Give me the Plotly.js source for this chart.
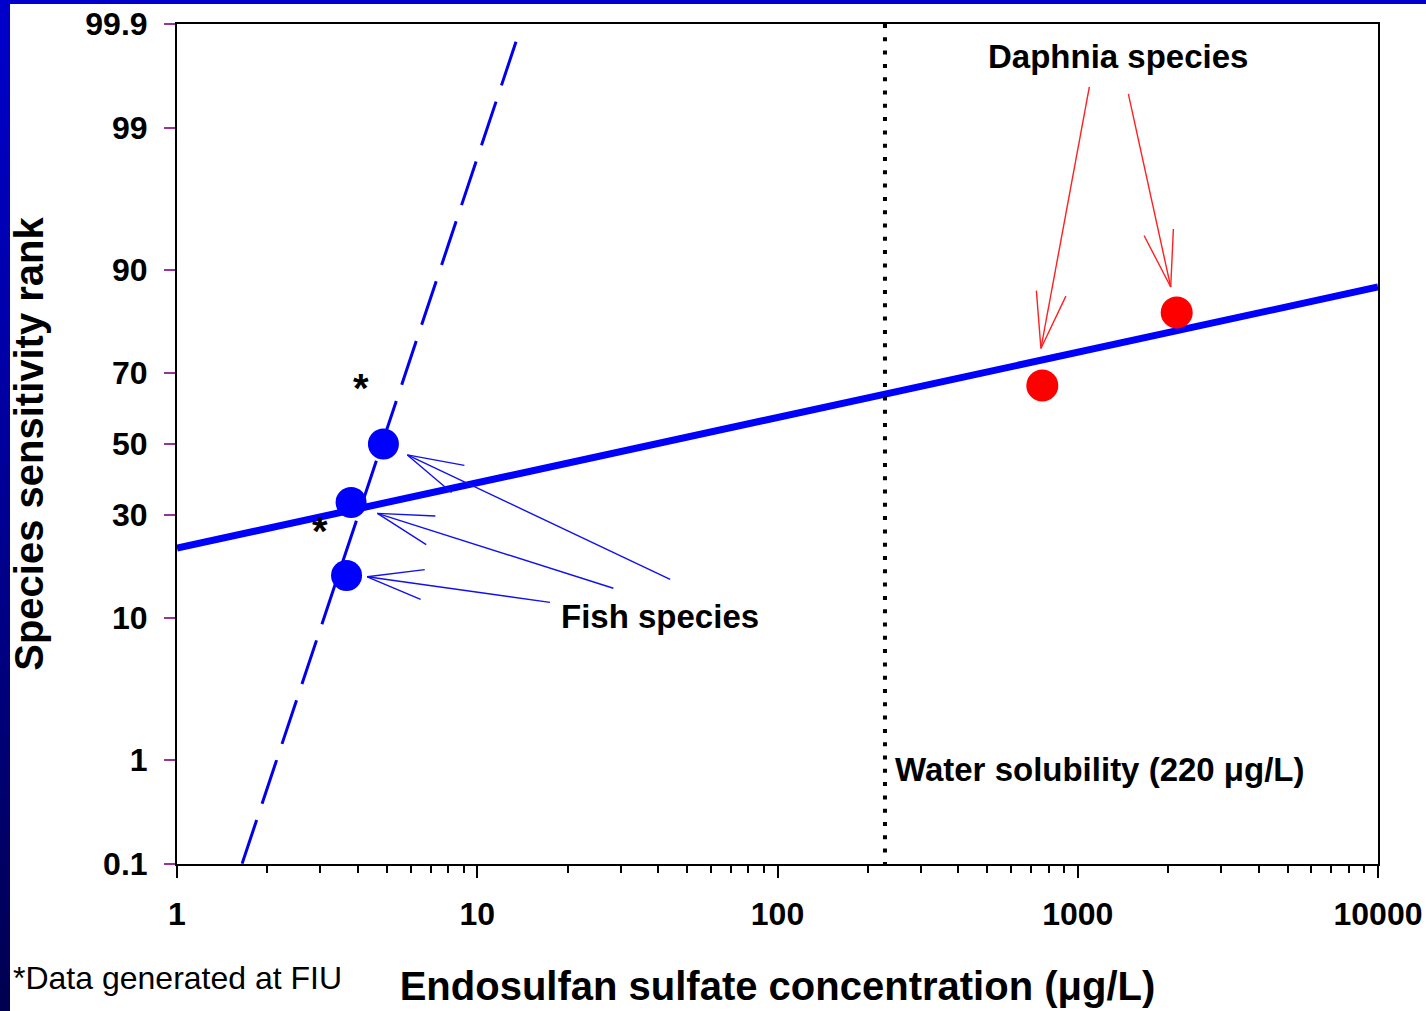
<!DOCTYPE html>
<html>
<head>
<meta charset="utf-8">
<script src="https://cdn.plot.ly/plotly-3.0.1.min.js"></script>
<style>
html,body{margin:0;padding:0;background:#fff;}
#wrap{position:relative;width:1426px;height:1011px;overflow:hidden;}
#chart{position:absolute;left:0;top:0;width:1426px;height:1011px;}
#leftbar{position:absolute;left:0;top:0;width:10px;height:1011px;background:linear-gradient(to bottom,#0000CC 0%,#0000A8 35%,#00007A 70%,#000050 100%);z-index:5;}
#topbar{position:absolute;left:0;top:0;width:1426px;height:4px;background:#0000CC;z-index:5;}
</style>
</head>
<body>
<div id="wrap"><div id="chart"></div><div id="leftbar"></div><div id="topbar"></div></div>
<script>
// ---------------- data ----------------
const fishConc = [3.67, 3.80, 4.87];          // µg/L
const fishRank = [16.67, 33.33, 50.0];         // %
const daphniaConc = [762, 2136];
const daphniaRank = [66.67, 83.33];

const fitConc = [1, 10000];                    // regression line, all species
const fitRank = [22.2, 87.6];
const fishFitConc = [13.46, 1.646];            // dashed regression line, fish
const fishFitRank = [99.846, 0.1];

const solubilityConc = 228;                    // vertical dotted line
const rankMin = 0.1, rankMax = 99.9;

const xTickVals = [1, 10, 100, 1000, 10000];
const xTickText = ['1', '10', '100', '1000', '10000'];
const yTickVals = [0.1, 1, 10, 30, 50, 70, 90, 99, 99.9];
const yTickText = ['0.1', '1', '10', '30', '50', '70', '90', '99', '99.9'];

// arrows (tail -> head)
const redTailConc = [1093, 1474];
const redTailRank = [99.57, 99.50];
const redHeadConc = [754, 2040];
const redHeadRank = [75.9, 87.6];
const blueTailConc = [43.9, 28.4, 17.47];
const blueTailRank = [15.97, 14.42, 12.2];
const blueHeadConc = [5.85, 4.65, 4.30];
const blueHeadRank = [46.8, 30.5, 16.43];

// text labels
const labelText = ['Daphnia species', 'Fish species', 'Water solubility (220 μg/L)'];
const labelConc = [1362, 40.6, 242.5];
const labelRank = [99.78, 10.28, 0.839];
const labelAnchor = ['center', 'center', 'left'];
const starConc = [4.10, 2.995];
const starRank = [68.6, 28.5];

// ---------------- helpers ----------------
function probit(p){
  const a=[-3.969683028665376e+01,2.209460984245205e+02,-2.759285104469687e+02,1.383577518672690e+02,-3.066479806614716e+01,2.506628277459239e+00];
  const b=[-5.447609879822406e+01,1.615858368580409e+02,-1.556989798598866e+02,6.680131188771972e+01,-1.328068155288572e+01];
  const c=[-7.784894002430293e-03,-3.223964580411365e-01,-2.400758277161838e+00,-2.549732539343734e+00,4.374664141464968e+00,2.938163982698783e+00];
  const d=[7.784695709041462e-03,3.224671290700398e-01,2.445134137142996e+00,3.754408661907416e+00];
  const plow=0.02425, phigh=1-plow; let q,r;
  if(p<plow){q=Math.sqrt(-2*Math.log(p));return (((((c[0]*q+c[1])*q+c[2])*q+c[3])*q+c[4])*q+c[5])/((((d[0]*q+d[1])*q+d[2])*q+d[3])*q+1);}
  if(p<=phigh){q=p-0.5;r=q*q;return (((((a[0]*r+a[1])*r+a[2])*r+a[3])*r+a[4])*r+a[5])*q/(((((b[0]*r+b[1])*r+b[2])*r+b[3])*r+b[4])*r+1);}
  q=Math.sqrt(-2*Math.log(1-p));return -(((((c[0]*q+c[1])*q+c[2])*q+c[3])*q+c[4])*q+c[5])/((((d[0]*q+d[1])*q+d[2])*q+d[3])*q+1);
}
const Z = pct => probit(pct/100);
const zMin = Z(rankMin), zMax = Z(rankMax);

const W = 1426, H = 1011, ML = 177, MR = 48, MT = 24, MB = 147;
const KX = (W-ML-MR)/4;                 // px per decade
const KZ = (H-MT-MB)/(zMax-zMin);        // px per probit unit
const BARB = 58, ANG = 15*Math.PI/180;

function arrows(tc, tr, hc, hr){
  const xs=[], ys=[];
  for(let i=0;i<tc.length;i++){
    const u0=Math.log10(tc[i])*KX, v0=Z(tr[i])*KZ, u1=Math.log10(hc[i])*KX, v1=Z(hr[i])*KZ;
    let du=u0-u1, dv=v0-v1; const L=Math.hypot(du,dv); du/=L; dv/=L;
    const barb = s => { const c=Math.cos(s*ANG), sn=Math.sin(s*ANG);
      return [u1+BARB*(du*c-dv*sn), v1+BARB*(du*sn+dv*c)]; };
    const b1=barb(1), b2=barb(-1);
    xs.push(tc[i], hc[i], null, Math.pow(10,b1[0]/KX), hc[i], Math.pow(10,b2[0]/KX), null);
    ys.push(Z(tr[i]), Z(hr[i]), null, b1[1]/KZ, Z(hr[i]), b2[1]/KZ, null);
  }
  return {x:xs, y:ys};
}

const FONT = 'Arial, "Liberation Sans", sans-serif';
const redA = arrows(redTailConc, redTailRank, redHeadConc, redHeadRank);
const blueA = arrows(blueTailConc, blueTailRank, blueHeadConc, blueHeadRank);

const traces = [
  {x:fitConc, y:fitRank.map(Z), mode:'lines', line:{color:'#0000FF', width:7}, hoverinfo:'skip'},
  {x:fishFitConc, y:fishFitRank.map(Z), mode:'lines', line:{color:'#0000EE', width:3, dash:'46px,17.1px'}, hoverinfo:'skip'},
  {x:[solubilityConc, solubilityConc], y:[zMax, zMin], mode:'lines', line:{color:'#000', width:4, dash:'4px,9.3px'}, hoverinfo:'skip'},
  {x:redA.x, y:redA.y, mode:'lines', line:{color:'#FF2020', width:1.4}, hoverinfo:'skip'},
  {x:blueA.x, y:blueA.y, mode:'lines', line:{color:'#1010F0', width:1.4}, hoverinfo:'skip'},
  {x:fishConc, y:fishRank.map(Z), mode:'markers', marker:{color:'#0000FF', size:31, line:{width:0}}},
  {x:daphniaConc, y:daphniaRank.map(Z), mode:'markers', marker:{color:'#FF0000', size:32, line:{width:0}}}
];

const minorVals = [];
for(let d=1; d<10000; d*=10) for(let k=2;k<=9;k++) minorVals.push(k*d);

const annotations = [];
for(let i=0;i<labelText.length;i++){
  annotations.push({x:Math.log10(labelConc[i]), y:Z(labelRank[i]), xref:'x', yref:'y', text:labelText[i],
    showarrow:false, xanchor:labelAnchor[i], yanchor:'middle',
    font:{family:FONT, size:33, weight:'bold', color:'#000'}});
}
for(let i=0;i<starConc.length;i++){
  annotations.push({x:Math.log10(starConc[i]), y:Z(starRank[i]), xref:'x', yref:'y', text:'*',
    showarrow:false, xanchor:'center', yanchor:'middle', yshift:-10,
    font:{family:FONT, size:40, weight:'bold', color:'#000'}});
}
annotations.push({x:(14-ML)/(W-ML-MR), y:(H-MB-978)/(H-MT-MB), xref:'paper', yref:'paper', text:'*Data generated at FIU',
  showarrow:false, xanchor:'left', yanchor:'middle', xshift:-3, font:{family:FONT, size:32, color:'#000'}});

const layout = {
  width:W, height:H,
  margin:{l:ML, r:MR, t:MT, b:MB, pad:0},
  paper_bgcolor:'#fff', plot_bgcolor:'#fff',
  showlegend:false,
  font:{family:FONT, color:'#000'},
  xaxis:{type:'log', range:[0,4], tickmode:'array', tickvals:xTickVals, ticktext:xTickText,
    ticks:'outside', ticklen:12, tickwidth:2, tickcolor:'#000',
    minor:{tickmode:'array', tickvals:minorVals, ticks:'outside', ticklen:7, tickwidth:2, tickcolor:'#000', showgrid:false},
    showline:true, linecolor:'#000', linewidth:2, mirror:true, showgrid:false, zeroline:false,
    tickfont:{family:FONT, size:32, weight:'bold', color:'#000'}, ticklabelstandoff:9,
    title:{text:'Endosulfan sulfate concentration (μg/L)', font:{family:FONT, size:40, weight:'bold', color:'#000'}, standoff:41}},
  yaxis:{range:[zMin, zMax], tickmode:'array', tickvals:yTickVals.map(Z), ticktext:yTickText,
    ticks:'outside', ticklen:11, tickwidth:2, tickcolor:'#993399',
    showline:true, linecolor:'#000', linewidth:2, mirror:true, showgrid:false, zeroline:false,
    tickfont:{family:FONT, size:32, weight:'bold', color:'#000'}, ticklabelstandoff:10,
    title:{text:'Species sensitivity rank', font:{family:FONT, size:40, weight:'bold', color:'#000'}, standoff:29}},
  annotations:annotations
};

Plotly.newPlot('chart', traces, layout, {displayModeBar:false, staticPlot:true});
</script>
</body>
</html>
